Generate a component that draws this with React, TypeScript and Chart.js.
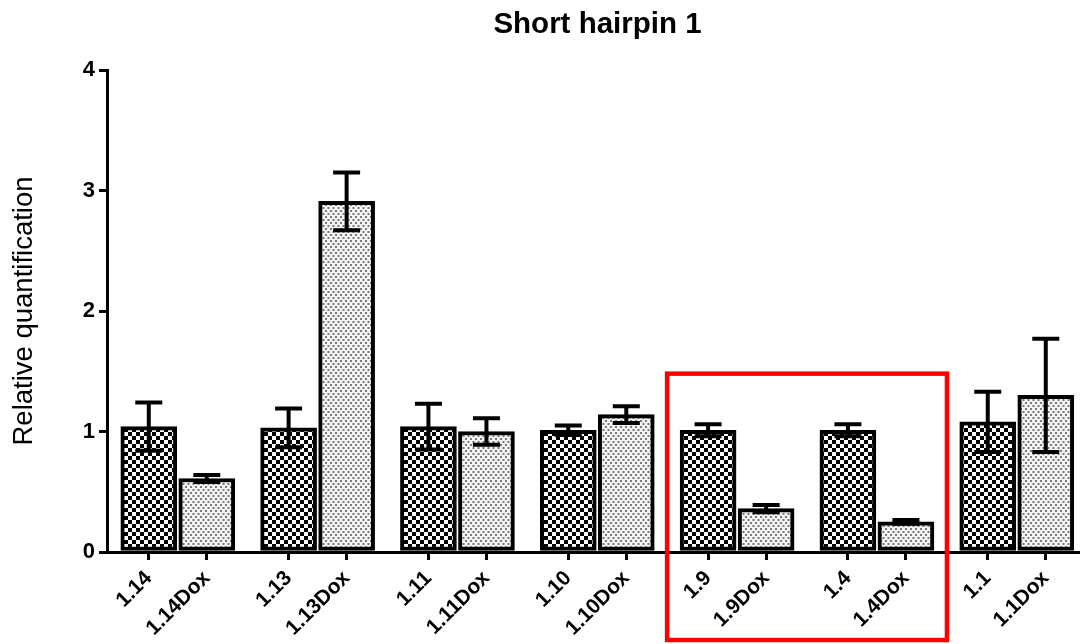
import { useEffect, useRef } from "react";
import { Chart, registerables } from "chart.js";

Chart.register(...registerables);

// Clone groups, each measured without and with doxycycline
const groups = ["1.14", "1.13", "1.11", "1.10", "1.9", "1.4", "1.1"];
const controlValues = [1.04, 1.03, 1.04, 1.01, 1.01, 1.01, 1.08];
const controlErrors = [0.2, 0.16, 0.19, 0.04, 0.05, 0.05, 0.25];
const doxValues = [0.61, 2.91, 1.0, 1.14, 0.36, 0.25, 1.3];
const doxErrors = [0.03, 0.24, 0.11, 0.07, 0.03, 0.015, 0.47];
const yTicks = [0, 1, 2, 3, 4];
const highlightedGroups = ["1.9", "1.4"];
const highlightTop = 1.48;

const FONT = "'Liberation Sans', Arial, sans-serif";
const GROUP_STEP = 2.41;
const DOX_OFFSET = 1;

const controlX = groups.map((_, i) => i * GROUP_STEP);
const doxX = groups.map((_, i) => i * GROUP_STEP + DOX_OFFSET);
const tickValues = groups.flatMap((_, i) => [controlX[i], doxX[i]]);
const tickLabels = groups.flatMap((g) => [g, g + "Dox"]);

function checkerPattern(ctx: CanvasRenderingContext2D) {
  const c = document.createElement("canvas");
  c.width = 8;
  c.height = 8;
  const p = c.getContext("2d")!;
  p.fillStyle = "#ffffff";
  p.fillRect(0, 0, 8, 8);
  p.fillStyle = "#000000";
  p.fillRect(0, 0, 4, 4);
  p.fillRect(4, 4, 4, 4);
  return ctx.createPattern(c, "repeat")!;
}

function dotPattern(ctx: CanvasRenderingContext2D) {
  const c = document.createElement("canvas");
  c.width = 5;
  c.height = 6;
  const p = c.getContext("2d")!;
  p.fillStyle = "#f3f3f3";
  p.fillRect(0, 0, 5, 6);
  p.fillStyle = "#7a7a7a";
  p.fillRect(0, 0, 2, 2);
  p.fillRect(2.5, 3, 2, 2);
  return ctx.createPattern(c, "repeat")!;
}

const errorBarPlugin = {
  id: "errorBars",
  afterDatasetsDraw(chart: any) {
    const ctx = chart.ctx as CanvasRenderingContext2D;
    const yScale = chart.scales.y;
    ctx.save();
    ctx.strokeStyle = "#000";
    ctx.lineWidth = 4;
    ctx.lineCap = "butt";
    chart.data.datasets.forEach((ds: any, di: number) => {
      const meta = chart.getDatasetMeta(di);
      meta.data.forEach((bar: any, i: number) => {
        const v = ds.data[i].y;
        const e = ds.errors[i];
        const x = bar.x;
        const yHi = yScale.getPixelForValue(v + e);
        const yLo = yScale.getPixelForValue(v - e);
        const half = 13.5;
        ctx.beginPath();
        ctx.moveTo(x, yHi);
        ctx.lineTo(x, yLo);
        ctx.moveTo(x - half, yHi);
        ctx.lineTo(x + half, yHi);
        ctx.moveTo(x - half, yLo);
        ctx.lineTo(x + half, yLo);
        ctx.stroke();
      });
    });
    ctx.restore();
  },
};

const decorPlugin = {
  id: "decor",
  afterDraw(chart: any) {
    const ctx = chart.ctx as CanvasRenderingContext2D;
    const { left, right, top, bottom } = chart.chartArea;
    const xs = chart.scales.x;
    const ys = chart.scales.y;
    ctx.save();

    // Title
    ctx.fillStyle = "#000";
    ctx.font = `bold 29.5px ${FONT}`;
    ctx.textAlign = "center";
    ctx.textBaseline = "alphabetic";
    ctx.fillText("Short hairpin 1", (left + right) / 2 + 4, 33);

    // Y axis title
    ctx.save();
    ctx.translate(24, (top + bottom) / 2);
    ctx.rotate(-Math.PI / 2);
    ctx.font = `27.5px ${FONT}`;
    ctx.textBaseline = "middle";
    ctx.fillText("Relative quantification", 0, 0);
    ctx.restore();

    // Highlight box around selected clones
    const first = groups.indexOf(highlightedGroups[0]);
    const last = groups.indexOf(highlightedGroups[highlightedGroups.length - 1]);
    const bx0 = xs.getPixelForValue(controlX[first]) - 41;
    const bx1 = xs.getPixelForValue(doxX[last]) + 41;
    const by0 = ys.getPixelForValue(highlightTop);
    const by1 = chart.height - 4;
    ctx.strokeStyle = "#ff0000";
    ctx.lineWidth = 4.5;
    ctx.strokeRect(bx0, by0, bx1 - bx0, by1 - by0);
    ctx.restore();
  },
};

export default function App() {
  const canvasRef = useRef<HTMLCanvasElement>(null);

  useEffect(() => {
    document.body.style.margin = "0";
    const canvas = canvasRef.current!;
    const ctx = canvas.getContext("2d")!;
    const tickFont = { family: FONT, size: 21, weight: "bold" as const };
    const axisCommon = {
      offset: false,
      grid: {
        offset: false,
        drawOnChartArea: false,
        drawTicks: true,
        color: "#000",
        lineWidth: 3,
        tickLength: 8,
      },
      border: { display: true, color: "#000", width: 3 },
    };

    const chart = new Chart(ctx, {
      type: "bar",
      data: {
        datasets: [
          {
            label: "Control",
            data: controlValues.map((y, i) => ({ x: controlX[i], y })),
            errors: controlErrors,
            backgroundColor: checkerPattern(ctx),
            borderColor: "#000",
            borderWidth: 4,
            borderSkipped: false,
            barThickness: 56,
            grouped: false,
          } as any,
          {
            label: "Dox",
            data: doxValues.map((y, i) => ({ x: doxX[i], y })),
            errors: doxErrors,
            backgroundColor: dotPattern(ctx),
            borderColor: "#000",
            borderWidth: 4,
            borderSkipped: false,
            barThickness: 56,
            grouped: false,
          } as any,
        ],
      },
      options: {
        animation: false,
        responsive: false,
        layout: { padding: { top: 70, left: 0, right: 0, bottom: 0 } },
        plugins: {
          legend: { display: false },
          tooltip: { enabled: false },
          title: { display: false },
        },
        scales: {
          x: {
            type: "linear",
            min: -0.72,
            max: 6 * GROUP_STEP + DOX_OFFSET + 0.59,
            afterBuildTicks(s: any) {
              s.ticks = tickValues.map((value) => ({ value }));
            },
            afterFit(s: any) {
              s.height = 92;
              s.paddingLeft = 0;
              s.paddingRight = 0;
            },
            ticks: {
              autoSkip: false,
              minRotation: 45,
              maxRotation: 45,
              padding: 6,
              color: "#000",
              font: tickFont,
              callback: (_v: any, i: number) => tickLabels[i],
            },
            ...axisCommon,
          },
          y: {
            min: 0,
            max: 4,
            afterBuildTicks(s: any) {
              s.ticks = yTicks.map((value) => ({ value }));
            },
            afterFit(s: any) {
              s.width = 107;
              s.paddingTop = 0;
              s.paddingBottom = 0;
            },
            ticks: {
              padding: 4,
              color: "#000",
              font: { family: FONT, size: 22, weight: "bold" as const },
            },
            ...axisCommon,
          },
        },
      } as any,
      plugins: [errorBarPlugin, decorPlugin],
    });
    return () => chart.destroy();
  }, []);

  return <canvas ref={canvasRef} width={1080} height={644} style={{ display: "block" }} />;
}
